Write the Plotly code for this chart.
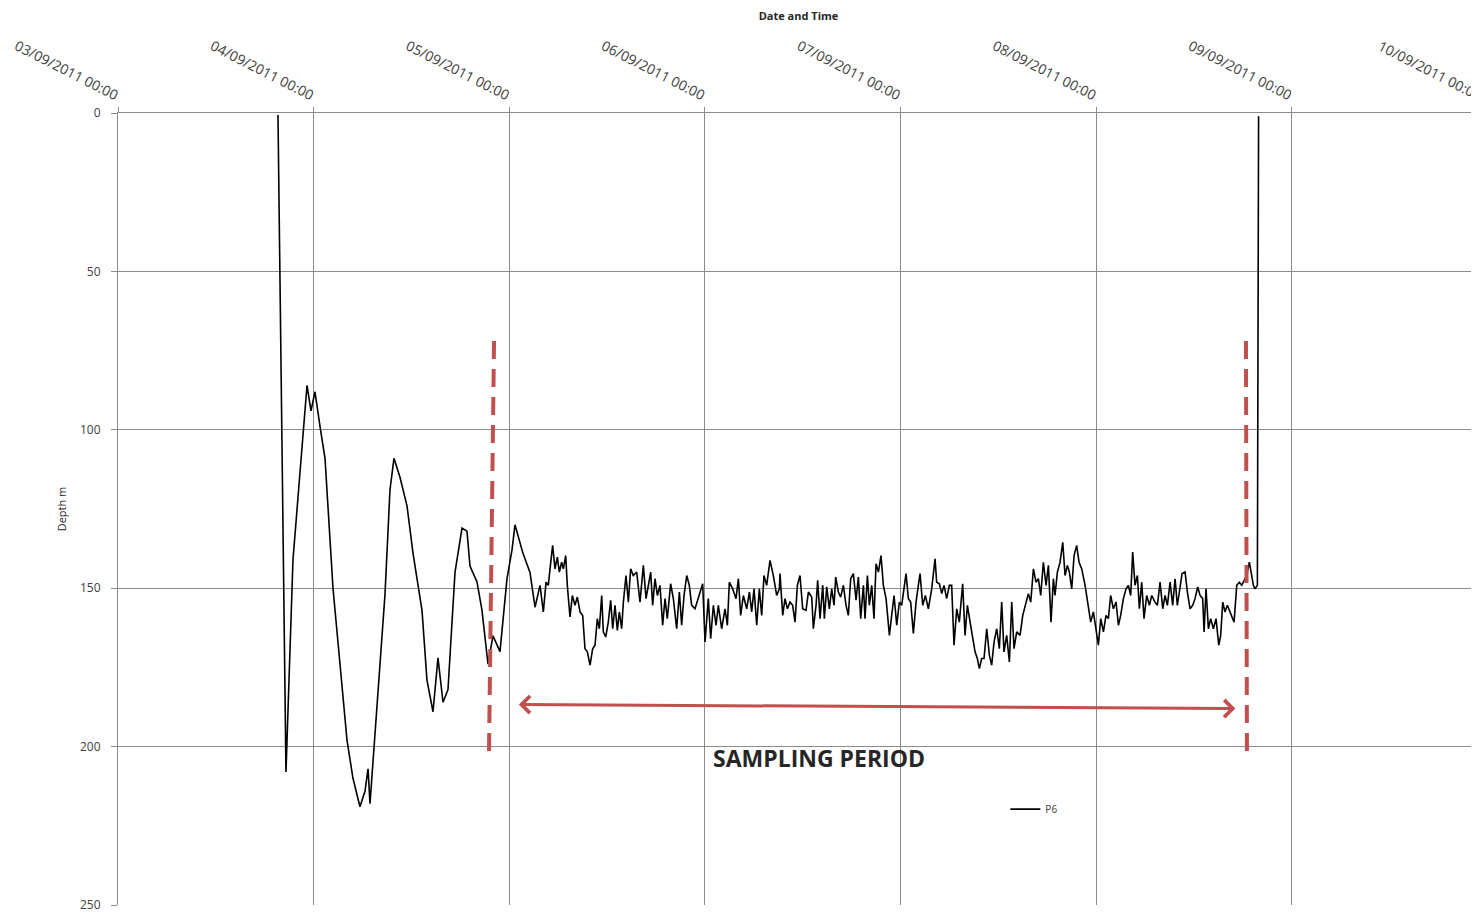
import pandas as pd
import plotly.graph_objects as go

# depth logger P6: hours after 03/09/2011 00:00 and depth in m
# deployment and settling swings
hours_a = [19.63, 20.61, 21.47, 22.33, 23.19, 23.68, 24.17, 24.79, 25.40, 26.38,
           27.48, 28.10, 28.83, 29.69, 30.31, 30.68, 30.92, 31.78, 32.76, 33.37,
           33.86, 34.60, 35.46, 36.20, 37.30, 37.91, 38.65, 39.26, 39.88, 40.49,
           41.35, 42.21, 42.82, 43.19, 44.05, 44.66, 45.40, 46.01, 46.87, 47.73,
           48.34, 48.71, 49.69, 50.55, 51.17]
depth_a = [0.6, 208, 141, 112, 86, 94, 88, 99, 109, 150,
           182, 198, 210, 219, 214, 207, 218, 187, 152, 119,
           109, 115, 124, 139, 157, 179, 189, 172, 186, 182,
           145, 131, 132, 143, 148, 157, 174, 165, 170, 147,
           138, 130, 139, 145, 156]

# sampling period, 05/09 - 06/09
hours_b = [51.78, 52.19, 52.52, 52.80, 53.01, 53.33, 53.62, 53.91, 54.15, 54.44,
           54.64, 54.93, 55.13, 55.46, 55.75, 56.07, 56.36, 56.69, 57.02, 57.30,
           57.59, 57.92, 58.24, 58.53, 58.81, 59.06, 59.35, 59.55, 59.84, 60.16,
           60.45, 60.70, 60.98, 61.27, 61.51, 61.80, 62.01, 62.33, 62.62, 62.90,
           63.23, 63.64, 64.05, 64.46, 64.79, 65.07, 65.36, 65.60, 65.89, 66.18,
           66.50, 66.83, 67.12, 67.40, 67.81, 68.14, 68.55, 68.88, 69.16, 69.45,
           69.78, 70.10, 70.39, 70.80, 71.33, 71.74, 72.03, 72.43, 72.72, 73.05,
           73.38, 73.66, 74.07, 74.48, 74.77, 75.01, 75.42, 75.83, 76.12, 76.40,
           76.73, 77.14, 77.47, 77.75, 78.04, 78.37, 78.69, 78.98, 79.26, 79.59,
           80.00, 80.41, 80.82, 81.15]
depth_b = [149.1, 157.5, 148.1, 149.1, 143.9, 136.5, 143.9, 140.2, 144.9, 141.8,
           143.9, 139.7, 149.1, 159.1, 152.3, 155.4, 152.8, 157.5, 158.6, 169.1,
           170.1, 174.3, 169.1, 168.0, 159.6, 162.8, 152.3, 163.8, 165.4, 160.7,
           153.8, 162.8, 155.4, 163.3, 157.5, 162.8, 154.4, 146.0, 154.4, 143.9,
           146.0, 144.9, 154.4, 142.8, 153.3, 149.1, 144.9, 155.4, 147.0, 152.3,
           149.1, 161.7, 153.3, 159.6, 148.6, 153.3, 162.8, 151.2, 161.7, 152.3,
           146.0, 149.1, 155.4, 156.5, 152.3, 148.6, 167.0, 153.3, 165.9, 155.4,
           161.7, 155.4, 162.8, 156.5, 161.7, 148.1, 150.2, 153.3, 147.0, 158.6,
           152.3, 156.5, 151.2, 157.5, 150.2, 161.7, 150.2, 158.6, 146.0, 149.1,
           141.2, 146.0, 152.3, 150.2]

# sampling period, 06/09 - 07/09
hours_c = [81.23, 81.56, 81.84, 82.13, 82.46, 82.78, 83.07, 83.36, 83.68, 84.01,
           84.42, 84.71, 85.12, 85.32, 85.65, 85.85, 86.14, 86.47, 86.67, 86.96,
           87.28, 87.57, 87.86, 88.06, 88.39, 88.67, 89.00, 89.33, 89.61, 89.90,
           90.23, 90.56, 90.84, 91.13, 91.46, 91.66, 91.95, 92.19, 92.48, 92.76,
           93.01, 93.30, 93.62, 93.91, 94.24, 94.65, 94.93, 95.22, 95.55, 95.87,
           96.16, 96.44, 96.69, 96.98, 97.26, 97.59, 97.92, 98.20, 98.41, 98.74,
           99.06, 99.43, 99.84, 100.25, 100.45, 100.78, 101.07, 101.35, 101.68, 102.01,
           102.29, 102.58, 102.91, 103.23, 103.64, 103.93, 104.22, 104.62, 104.95, 105.16,
           105.44, 105.69, 105.97, 106.26, 106.59, 106.92, 107.20, 107.49, 107.82, 108.14,
           108.43, 108.71, 109.04, 109.37, 109.66, 109.94, 110.27, 110.60]
depth_c = [145.4, 158.6, 153.3, 156.5, 154.4, 155.4, 160.7, 149.1, 146.0, 156.5,
           157.0, 151.2, 152.8, 162.8, 155.4, 147.5, 159.6, 149.1, 159.6, 149.6,
           156.5, 150.2, 155.4, 146.5, 151.2, 152.8, 149.1, 155.4, 158.6, 147.0,
           145.4, 153.8, 146.5, 159.6, 149.1, 159.6, 146.0, 155.4, 149.1, 159.6,
           142.3, 144.9, 139.7, 149.1, 153.3, 164.9, 158.6, 152.3, 161.7, 154.4,
           155.4, 149.1, 145.4, 153.3, 154.4, 164.3, 154.4, 149.1, 145.4, 155.4,
           152.3, 156.5, 150.2, 140.7, 148.1, 148.6, 151.7, 149.1, 153.3, 149.1,
           149.1, 168.0, 156.5, 160.7, 148.6, 164.9, 155.4, 161.7, 167.0, 170.1,
           172.2, 175.4, 172.2, 172.2, 162.8, 171.2, 174.3, 167.0, 162.8, 169.1,
           154.4, 170.1, 164.9, 173.3, 154.4, 169.1, 163.8, 164.9]

# sampling period to recovery, 07/09 - 09/09
hours_d = [110.68, 111.01, 111.29, 111.70, 111.99, 112.32, 112.64, 112.93, 113.22, 113.54,
           113.87, 114.16, 114.48, 114.77, 114.97, 115.26, 115.59, 115.92, 116.20, 116.49,
           116.73, 117.02, 117.31, 117.63, 117.92, 118.25, 118.66, 119.06, 119.35, 119.68,
           120.01, 120.29, 120.58, 120.91, 121.23, 121.52, 121.80, 122.13, 122.46, 122.75,
           123.03, 123.36, 123.69, 123.97, 124.26, 124.50, 124.79, 125.08, 125.32, 125.61,
           125.89, 126.22, 126.55, 126.84, 127.24, 127.53, 127.86, 128.19, 128.47, 128.76,
           129.09, 129.41, 129.70, 129.98, 130.23, 130.56, 130.93, 131.21, 131.54, 131.87,
           132.15, 132.48, 132.77, 133.09, 133.26, 133.50, 133.79, 134.07, 134.40, 134.73,
           135.06, 135.30, 135.55, 135.83, 136.12, 136.45, 136.77, 136.94, 137.27, 137.59,
           137.88, 138.16, 138.49, 138.82, 139.11, 139.31, 139.51, 139.80, 139.95]
depth_d = [164.9, 158.6, 155.4, 151.7, 154.4, 143.9, 148.1, 147.0, 152.3, 141.8,
           149.1, 142.8, 160.7, 147.0, 152.3, 144.9, 141.8, 135.5, 146.0, 142.8,
           144.9, 150.2, 139.7, 136.5, 141.8, 143.9, 149.1, 155.4, 160.7, 157.5,
           162.8, 168.0, 159.6, 163.8, 158.6, 159.6, 152.3, 156.5, 154.4, 161.7,
           158.6, 153.3, 150.2, 149.1, 152.3, 138.6, 149.1, 146.0, 156.5, 148.1,
           159.6, 152.3, 155.4, 152.3, 154.4, 155.4, 148.1, 156.5, 152.3, 155.4,
           148.1, 155.4, 147.0, 155.4, 151.2, 145.4, 144.9, 151.2, 156.5, 155.4,
           153.3, 149.6, 152.3, 153.3, 163.8, 150.2, 162.8, 159.6, 162.8, 159.6,
           168.0, 164.9, 154.4, 157.5, 155.4, 157.5, 159.6, 160.7, 149.1, 148.1,
           149.1, 147.5, 146.0, 141.8, 146.0, 149.1, 150.2, 149.1, 1.0]

# sampling period markers (hours, depth)
start_line_h = [46.14, 45.52]
end_line_h = [138.40, 138.52]
marker_depth = [72, 202]
arrow_h = [49.0, 137.1]
arrow_depth = [186.7, 188.0]

t0 = pd.Timestamp("2011-09-03 00:00")
hours = hours_a + hours_b + hours_c + hours_d
depth = depth_a + depth_b + depth_c + depth_d
times = t0 + pd.to_timedelta(hours, unit="h")

red = "#C0504D"
grid = "#8c8c8c"
font = "Open Sans"

fig = go.Figure()
fig.add_trace(go.Scatter(x=times, y=depth, mode="lines", name="P6",
                         line=dict(color="black", width=1.6)))

for hh in [start_line_h, end_line_h]:
    fig.add_trace(go.Scatter(x=t0 + pd.to_timedelta(hh, unit="h"), y=marker_depth,
                             mode="lines", showlegend=False, hoverinfo="skip",
                             line=dict(color=red, width=4, dash="18px,10px")))

fig.add_annotation(x=t0 + pd.Timedelta(hours=arrow_h[1]), y=arrow_depth[1],
                   ax=t0 + pd.Timedelta(hours=arrow_h[0]), ay=arrow_depth[0],
                   xref="x", yref="y", axref="x", ayref="y", text="",
                   showarrow=True, arrowhead=4, startarrowhead=4, arrowside="end+start",
                   arrowwidth=3, arrowsize=1.1, startarrowsize=1.1, arrowcolor=red)
fig.add_annotation(x=t0 + pd.Timedelta(hours=86.0), y=203.7, xref="x", yref="y",
                   text="<b>SAMPLING PERIOD</b>", showarrow=False, yanchor="middle",
                   font=dict(family=font, size=23, color="#262626"))

# 10/09 tick sits just past the right edge of the window
fig.add_annotation(x=1.0066, y=1.0, xref="paper", yref="paper", yshift=5,
                   text="10/09/2011 00:00", showarrow=False, textangle=27,
                   xanchor="right", yanchor="bottom",
                   font=dict(family=font, size=14, color="#404040"))

end = t0 + pd.Timedelta(days=(1479 - 118) / 195.6)
fig.update_xaxes(side="top", type="date", range=[t0, end], automargin=False,
                 tick0=t0, dtick=86400000, tickformat="%d/%m/%Y %H:%M",
                 tickangle=27, ticks="outside", ticklen=5, tickcolor=grid,
                 showgrid=True, gridcolor=grid, gridwidth=1,
                 showline=True, linecolor=grid,
                 tickfont=dict(family=font, size=14, color="#404040"),
                 title=dict(text="<b>Date and Time</b>", standoff=14,
                            font=dict(family=font, size=11, color="#262626")))
fig.update_yaxes(range=[250, 0], dtick=50, ticks="outside", ticklen=6, tickcolor=grid,
                 showgrid=True, gridcolor=grid, gridwidth=1, zeroline=False,
                 showline=True, linecolor=grid, automargin=False,
                 ticklabelstandoff=8, ticklabeloverflow="allow",
                 tickfont=dict(family=font, size=12, color="#404040"),
                 title=dict(text="Depth m", standoff=11,
                            font=dict(family=font, size=11, color="#262626")))

# the page body adds an 8px offset, so the figure is drawn 8px smaller
fig.update_layout(width=1471, height=905, plot_bgcolor="white", paper_bgcolor="white",
                  margin=dict(l=110, r=0, t=105, b=8),
                  showlegend=True,
                  legend=dict(x=0.652, y=0.121, xanchor="left", yanchor="middle",
                              bgcolor="rgba(0,0,0,0)",
                              font=dict(family=font, size=10, color="#404040")))

fig.write_html("out.html")
